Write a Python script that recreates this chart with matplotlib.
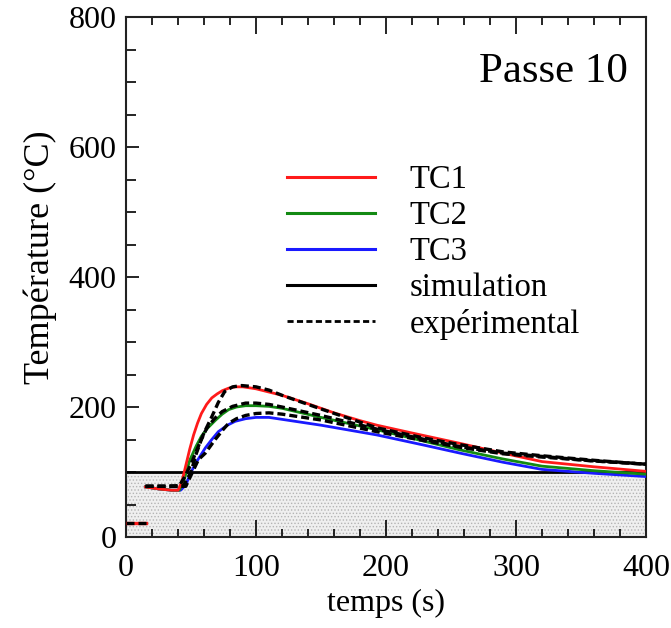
import matplotlib
matplotlib.use("Agg")
import matplotlib.pyplot as plt
from matplotlib.lines import Line2D
from matplotlib.ticker import MultipleLocator

plt.rcParams['font.family'] = ['Liberation Serif', 'DejaVu Serif']
plt.rcParams['hatch.linewidth'] = 0.6

# ---- data ----
tc1_sim_t = [15, 25, 35, 40, 43, 46, 49, 52, 55, 58, 62, 66, 70, 74, 79, 84, 90, 100, 110, 120, 140, 160, 180, 193, 220, 257, 290, 320, 360, 400]
tc1_sim_T = [77, 74, 72, 72, 85, 110, 135, 157, 175, 190, 204, 214, 220, 225, 229, 231, 231, 228, 223, 218, 205, 191, 179, 172, 160, 144, 129, 116, 108, 101]

tc1_exp_t = [15, 30, 41, 45, 50, 54.5, 60, 66, 71, 76, 82, 89, 100, 110, 120, 150, 193, 230, 257, 290, 320, 360, 400]
tc1_exp_T = [78, 78, 79, 92, 112, 134, 160, 185, 207, 224, 231, 233, 231, 226, 218, 197, 168, 152, 142, 131, 125, 118, 112]

tc2_sim_t = [15, 25, 35, 41, 45, 49, 54, 58, 63, 69, 74, 79, 85, 92, 100, 110, 120, 150, 193, 230, 257, 290, 320, 360, 400]
tc2_sim_T = [77, 74, 72, 72, 90, 118, 140, 155, 168, 180, 189, 196, 200, 202, 202, 201, 198, 184, 165, 147, 134, 120, 109, 102, 96.6]

tc2_exp_t = [15, 30, 44, 50, 54, 58, 62, 68, 74, 82, 92, 100, 110, 120, 150, 193, 230, 257, 290, 320, 360, 400]
tc2_exp_T = [78, 78, 78, 100, 128, 150, 167, 182, 193, 201, 206, 206, 204, 200, 187, 166, 150, 139, 129, 124, 117, 112]

tc3_sim_t = [15, 25, 35, 42, 46, 50, 55, 61, 66, 71, 78, 84, 92, 100, 110, 120, 150, 193, 230, 257, 290, 320, 360, 400]
tc3_sim_T = [77, 74, 72, 72, 80, 100, 118, 137, 150, 162, 172, 178, 182, 184, 184, 181, 172, 157, 141, 129, 115, 104, 98, 93]

tc3_exp_t = [15, 30, 46, 50, 55.7, 61, 68.6, 75, 79, 85, 92, 100, 110, 120, 150, 193, 230, 257, 290, 320, 360, 400]
tc3_exp_T = [78, 78, 78, 95, 119, 129, 150, 166, 175, 182, 187, 190, 191, 189, 180, 162, 148, 138, 128, 123, 117, 112]

init_t = [0, 15]
init_T = [22, 22]

band_T = 100
x_ticks = [0, 100, 200, 300, 400]
y_ticks = [0, 200, 400, 600, 800]

red = '#ff1a1a'
green = '#138a13'
blue = '#1a1aff'

fig = plt.figure(figsize=(6.71, 6.28), dpi=100)
ax = fig.add_axes([126/671, 1-537/628, 520/671, 520/628])

# grey band
ax.axhspan(0, band_T, facecolor='#efefef', edgecolor='#b4b4b4', hatch='.....', lw=0, zorder=0)
ax.axhline(band_T, color='black', lw=2.0, zorder=2)

lw = 2.0
dash = (0, (2.4, 1.2))
ax.plot(init_t, init_T, color=red, lw=2.4, zorder=3)
ax.plot(init_t, init_T, color='black', lw=2.4, ls=dash, zorder=4)

ax.plot(tc3_sim_t, tc3_sim_T, color=blue, lw=lw, zorder=3)
ax.plot(tc2_sim_t, tc2_sim_T, color=green, lw=lw, zorder=3)
ax.plot(tc1_sim_t, tc1_sim_T, color=red, lw=lw, zorder=3)
ax.plot(tc3_exp_t, tc3_exp_T, color='black', lw=2.4, ls=dash, zorder=4)
ax.plot(tc2_exp_t, tc2_exp_T, color='black', lw=2.4, ls=dash, zorder=4)
ax.plot(tc1_exp_t, tc1_exp_T, color='black', lw=2.4, ls=dash, zorder=4)

ax.set_xlim(0, 400)
ax.set_ylim(0, 800)
ax.set_xticks(x_ticks)
ax.set_yticks(y_ticks)
ax.xaxis.set_minor_locator(MultipleLocator(20))
ax.yaxis.set_minor_locator(MultipleLocator(50))
ax.tick_params(axis='x', which='both', direction='in', top=True, bottom=True, labelsize=23, pad=12, width=1.2)
ax.tick_params(axis='y', which='both', direction='in', left=True, right=False, labelsize=23, pad=7, width=1.2)
ax.tick_params(axis='x', which='major', length=12)
ax.tick_params(axis='x', which='minor', length=6)
ax.tick_params(axis='y', which='major', length=9)
ax.tick_params(axis='y', which='minor', length=7)
for s in ax.spines.values():
    s.set_linewidth(1.5)
    s.set_color('#222222')

ax.set_xlabel('temps (s)', fontsize=23)
ax.xaxis.set_label_coords(0.5, -0.1)
ax.set_ylabel('Température (°C)', fontsize=26)
ax.yaxis.set_label_coords(-0.133, 0.538)

ax.text(0.965, 0.894, 'Passe 10', transform=ax.transAxes, ha='right', va='center', fontsize=31)

handles = [
    Line2D([], [], color=red, lw=2.2),
    Line2D([], [], color=green, lw=2.2),
    Line2D([], [], color=blue, lw=2.2),
    Line2D([], [], color='black', lw=2.2),
    Line2D([], [], color='black', lw=2.0, ls=(0, (2.2, 1.2))),
]
labels = ['TC1', 'TC2', 'TC3', 'simulation', 'expérimental']
ax.legend(handles, labels, loc='upper left', bbox_to_anchor=(0.31, 0.716), frameon=False,
          fontsize=23.5, handlelength=2.7, handletextpad=1.05, labelspacing=0.17, borderpad=0, borderaxespad=0)

fig.savefig('out.png', dpi=100)
